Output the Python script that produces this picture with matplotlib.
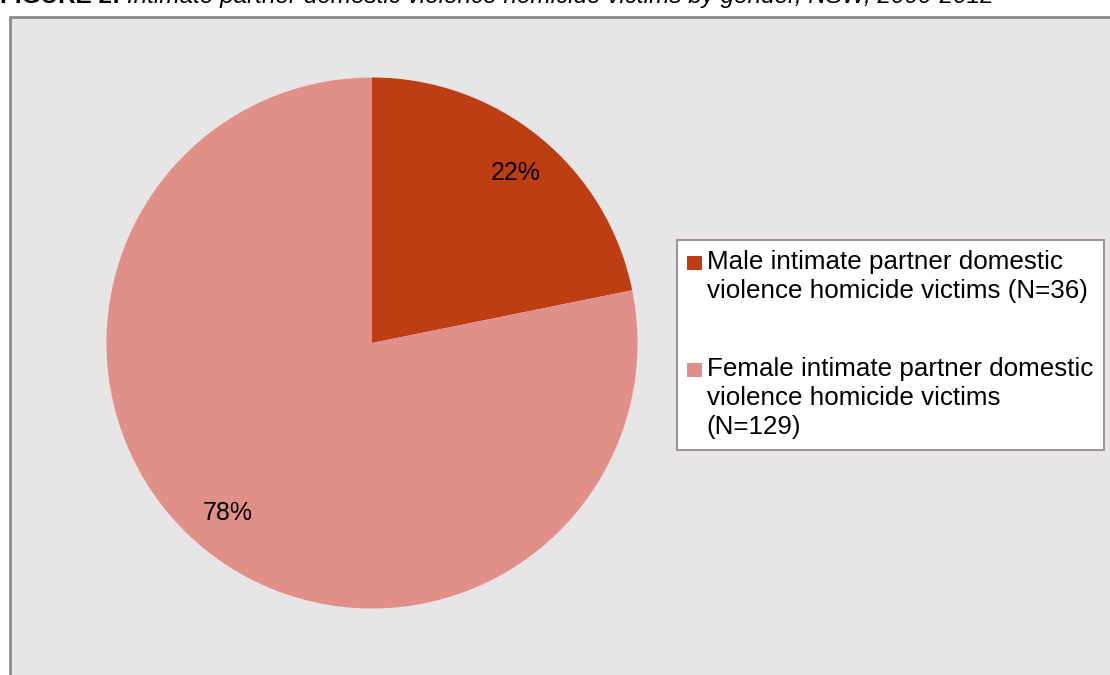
import matplotlib
matplotlib.use('Agg')
import matplotlib.pyplot as plt
from matplotlib.patches import Rectangle
from matplotlib.offsetbox import HPacker
from matplotlib.legend_handler import HandlerPatch

plt.rcParams['font.family'] = ['Liberation Sans', 'DejaVu Sans']

labels = ['Male intimate partner domestic\nviolence homicide victims (N=36)',
          'Female intimate partner domestic\nviolence homicide victims\n(N=129)']
counts = [36, 129]
colors = ['#BE3E14', '#E09088']

W, H = 1110, 675
fig = plt.figure(figsize=(W / 100, H / 100), dpi=100)
fig.patch.set_facecolor('white')

# grey chart area, cut off at the right and bottom
fig.patches.append(Rectangle((10 / W, -0.05), 1.1, 1 - 17 / H + 0.05,
                             transform=fig.transFigure, facecolor='#E7E5E6',
                             edgecolor='#8A8A8A', linewidth=2, zorder=-1))

# title (mostly cut off at the top)
t1 = fig.text(0.0, 1 - 3 / H, 'FIGURE 2: ', fontsize=17.5, fontweight='bold',
              va='baseline', ha='left')
fig.canvas.draw()
bb = t1.get_window_extent()
fig.text(bb.x1 / W, 1 - 3 / H,
         'Intimate partner domestic violence homicide victims by gender, NSW, 2000-2012',
         fontsize=17.5, fontstyle='italic', va='baseline', ha='left')

# pie
cx, cy, r = 372, 343, 265.5
ax = fig.add_axes([(cx - r) / W, 1 - (cy + r) / H, 2 * r / W, 2 * r / H])
wedges, _, autotexts = ax.pie(counts, colors=colors, startangle=89, counterclock=False,
                              autopct='%.0f%%', pctdistance=0.84,
                              textprops={'fontsize': 18, 'color': 'black'})
ax.set_xlim(-1, 1)
ax.set_ylim(-1, 1)
ax.set_aspect('equal')
ax.axis('off')
# labels sit a touch off-centre in the original, turn the wedges back to 12 o'clock
for w in wedges:
    w.set_theta1(w.theta1 + 1)
    w.set_theta2(w.theta2 + 1)


def square(legend, orig_handle, xdescent, ydescent, width, height, fontsize):
    # small square sitting at the bottom of the handle box
    return Rectangle((-xdescent, -ydescent), width, width)


leg = fig.legend(wedges, labels, loc='upper left', bbox_to_anchor=(677 / W, 1 - 240 / H),
                 fontsize=18.7, frameon=True, fancybox=False, framealpha=1,
                 edgecolor='#9E9596', facecolor='white', handlelength=0.55,
                 handleheight=0.8, handletextpad=0.2, labelspacing=2.08,
                 borderpad=0.4, borderaxespad=0,
                 handler_map={w: HandlerPatch(patch_func=square) for w in wedges})
leg.get_frame().set_linewidth(1.5)
for t in leg.get_texts():
    t.set_linespacing(1.26)
# put the colour square next to the first line of each label
for p in leg.findobj(HPacker):
    p.align = 'top'

fig.savefig('out.png', dpi=100)
